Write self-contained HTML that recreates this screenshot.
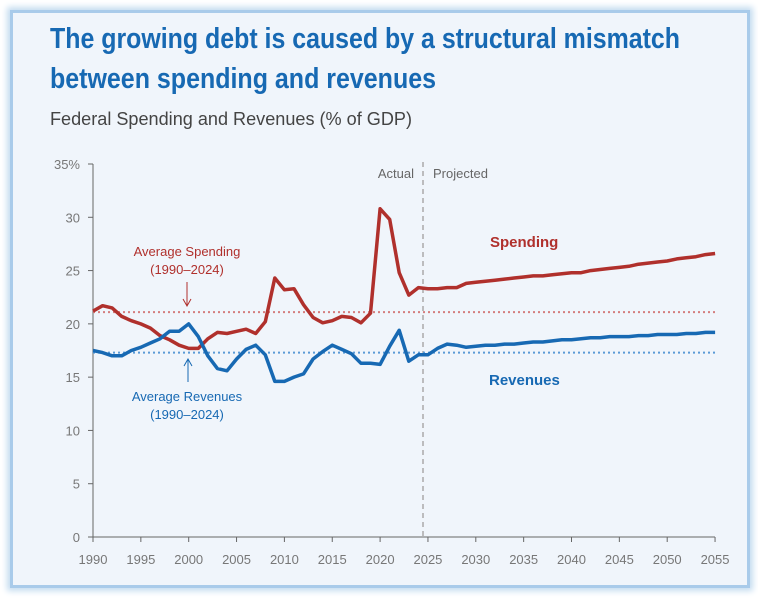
<!DOCTYPE html>
<html><head><meta charset="utf-8"><style>
html,body{margin:0;padding:0;width:758px;height:598px;background:#fff;overflow:hidden}
.panel{position:absolute;left:10px;top:10px;width:734px;height:572px;background:#f0f5fb;border:3px solid #a9cbea;box-shadow:0 0 6px 3px #c4dcf0}
svg{position:absolute;left:0;top:0}
</style></head><body>
<div class="panel"></div>
<svg id="s" width="758" height="598" xmlns="http://www.w3.org/2000/svg" font-family="Liberation Sans, sans-serif">
<text x="50" y="48" fill="#1769b3" font-size="29" font-weight="bold" textLength="630" lengthAdjust="spacingAndGlyphs">The growing debt is caused by a structural mismatch</text>
<text x="50" y="88" fill="#1769b3" font-size="29" font-weight="bold" textLength="386" lengthAdjust="spacingAndGlyphs">between spending and revenues</text>
<text x="50" y="125" fill="#444" font-size="18" textLength="362" lengthAdjust="spacingAndGlyphs">Federal Spending and Revenues (% of GDP)</text>
<g id="g"></g>
</svg>
<script>
var g=document.getElementById('g'),ns='http://www.w3.org/2000/svg';
function X(y){return 93+(y-1990)*9.57}function Y(v){return 537-v*10.657}
function el(t,a,txt){var e=document.createElementNS(ns,t);for(var k in a)e.setAttribute(k,a[k]);if(txt)e.textContent=txt;g.appendChild(e);return e}
// axes
el('line',{x1:93,y1:164,x2:93,y2:537,stroke:'#666','stroke-width':1});
el('line',{x1:93,y1:537,x2:715,y2:537,stroke:'#666','stroke-width':1});
for(var v=0;v<=35;v+=5){el('line',{x1:88,x2:93,y1:Y(v),y2:Y(v),stroke:'#666'});el('text',{x:80,y:Y(v)+5,'text-anchor':'end','font-size':13,fill:'#777'},v==35?'35%':String(v));}
for(var y=1990;y<=2055;y+=5){el('line',{x1:X(y),x2:X(y),y1:537,y2:542,stroke:'#666'});el('text',{x:X(y),y:564,'text-anchor':'middle','font-size':13,fill:'#777'},String(y));}
el('line',{x1:423,x2:423,y1:162,y2:537,stroke:'#aaa','stroke-width':1.5,'stroke-dasharray':'5,4'});
el('text',{x:414,y:178,'text-anchor':'end','font-size':13,fill:'#666'},'Actual');
el('text',{x:433,y:178,'font-size':13,fill:'#666'},'Projected');
el('line',{x1:93,x2:715,y1:Y(21.1),y2:Y(21.1),stroke:'#d47e7e','stroke-width':2,'stroke-dasharray':'2,3'});
el('line',{x1:93,x2:715,y1:Y(17.3),y2:Y(17.3),stroke:'#5a9ad6','stroke-width':2,'stroke-dasharray':'2,3'});
var sp=[21.2,21.7,21.5,20.7,20.3,20.0,19.6,18.9,18.5,18.0,17.7,17.7,18.6,19.2,19.1,19.3,19.5,19.1,20.2,24.3,23.2,23.3,21.8,20.6,20.1,20.3,20.7,20.6,20.1,21.0,30.8,29.8,24.8,22.7,23.4];
var rv=[17.5,17.3,17.0,17.0,17.5,17.8,18.2,18.6,19.3,19.3,20.0,18.8,17.0,15.8,15.6,16.7,17.6,18.0,17.1,14.6,14.6,15.0,15.3,16.7,17.4,18.0,17.6,17.2,16.3,16.3,16.2,17.9,19.4,16.5,17.1];
var spP=[23.3,23.3,23.4,23.4,23.8,23.9,24.0,24.1,24.2,24.3,24.4,24.5,24.5,24.6,24.7,24.8,24.8,25.0,25.1,25.2,25.3,25.4,25.6,25.7,25.8,25.9,26.1,26.2,26.3,26.5,26.6];
var rvP=[17.1,17.7,18.1,18.0,17.8,17.9,18.0,18.0,18.1,18.1,18.2,18.3,18.3,18.4,18.5,18.5,18.6,18.7,18.7,18.8,18.8,18.8,18.9,18.9,19.0,19.0,19.0,19.1,19.1,19.2,19.2];
function path(a,b,c){var d='';a.concat(b).forEach(function(v,i){d+=(i?'L':'M')+X(1990+i).toFixed(1)+','+Y(v).toFixed(1)});el('path',{d:d,fill:'none',stroke:c,'stroke-width':3.5,'stroke-linejoin':'round'})}
path(sp,spP,'#b0302c');path(rv,rvP,'#1769b3');
el('text',{x:490,y:247,'font-size':15,'font-weight':'bold',fill:'#b0302c'},'Spending');
el('text',{x:489,y:385,'font-size':15,'font-weight':'bold',fill:'#1769b3'},'Revenues');
el('text',{x:187,y:256,'text-anchor':'middle','font-size':13,fill:'#b0302c'},'Average Spending');
el('text',{x:187,y:274,'text-anchor':'middle','font-size':13,fill:'#b0302c'},'(1990–2024)');
el('text',{x:187,y:401,'text-anchor':'middle','font-size':13,fill:'#1769b3'},'Average Revenues');
el('text',{x:187,y:419,'text-anchor':'middle','font-size':13,fill:'#1769b3'},'(1990–2024)');
el('path',{d:'M187,282 L187,305 M183,299 L187,306 L191,299',stroke:'#b0302c',fill:'none','stroke-width':1});
el('path',{d:'M188,382 L188,360 M184,366 L188,359 L192,366',stroke:'#1769b3',fill:'none','stroke-width':1});
</script>
</body></html>
